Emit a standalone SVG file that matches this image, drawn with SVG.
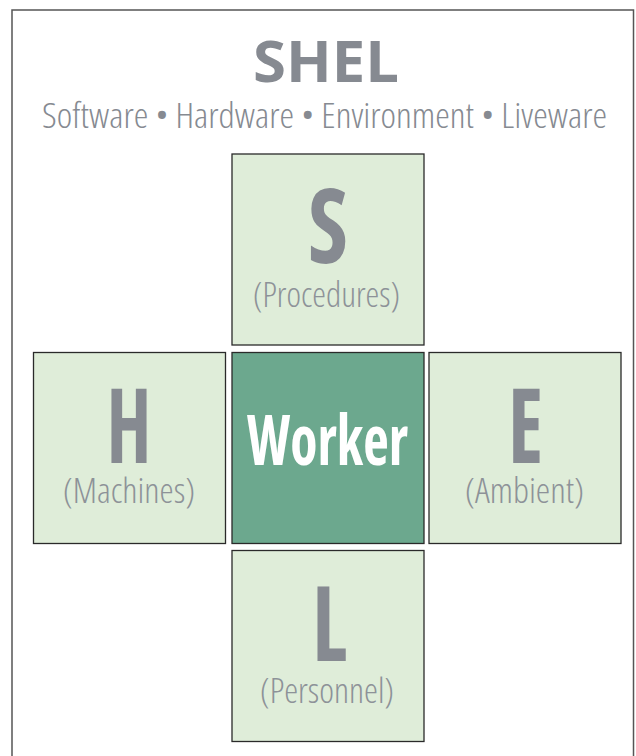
<svg xmlns="http://www.w3.org/2000/svg" width="636" height="756" viewBox="0 0 636 756">
<style>
.frame{fill:#ffffff;stroke:#555;stroke-width:1.5}
.box{fill:#dfedd9;stroke:#2a2a2a;stroke-width:1.3}
.core{fill:#6ca88e;stroke:#2a2a2a;stroke-width:1.3}
.t{font-family:"Open Sans","Liberation Sans",sans-serif;font-stretch:75%;text-anchor:middle}
.l{font-family:"Open Sans","Liberation Sans",sans-serif;font-stretch:75%;font-weight:300;text-anchor:middle}
.big{font-weight:bold;font-size:104px;fill:#868a91}
.sub{font-size:34px;fill:#8d9298}
.title{font-weight:bold;font-size:58px;fill:#868a91;font-stretch:100%}
.tag{font-size:35px;fill:#868a91}
.wk{font-weight:bold;font-size:70px;fill:#ffffff}
</style>
<rect class="frame" x="12" y="10" width="621.5" height="760"/>
<g id="title">
<text class="t title" x="326" y="82" textLength="146" lengthAdjust="spacingAndGlyphs">SHEL</text>
<text class="l tag" x="324.5" y="128" textLength="565" lengthAdjust="spacingAndGlyphs">Software • Hardware • Environment • Liveware</text>
</g>
<g id="connectors"></g>
<g id="S">
<rect class="box" x="232" y="154" width="192" height="191"/>
<text class="t big" x="328" y="263" textLength="40" lengthAdjust="spacingAndGlyphs">S</text>
<text class="l sub" x="326.5" y="307" textLength="147" lengthAdjust="spacingAndGlyphs">(Procedures)</text>
</g>
<g id="H">
<rect class="box" x="33.5" y="352.5" width="192" height="191"/>
<text class="t big" x="129" y="463" textLength="45" lengthAdjust="spacingAndGlyphs">H</text>
<text class="l sub" x="129" y="503" textLength="132" lengthAdjust="spacingAndGlyphs">(Machines)</text>
</g>
<g id="Worker">
<rect class="core" x="232" y="352.5" width="192" height="191"/>
<text class="t wk" x="327.5" y="465" textLength="161" lengthAdjust="spacingAndGlyphs">Worker</text>
</g>
<g id="E">
<rect class="box" x="429" y="352.5" width="192" height="191"/>
<text class="t big" x="525.5" y="463" textLength="35" lengthAdjust="spacingAndGlyphs">E</text>
<text class="l sub" x="524.5" y="503" textLength="119" lengthAdjust="spacingAndGlyphs">(Ambient)</text>
</g>
<g id="L">
<rect class="box" x="232" y="550.5" width="192" height="191"/>
<text class="t big" x="329.5" y="661" textLength="35" lengthAdjust="spacingAndGlyphs">L</text>
<text class="l sub" x="327" y="703" textLength="134" lengthAdjust="spacingAndGlyphs">(Personnel)</text>
</g>
</svg>
